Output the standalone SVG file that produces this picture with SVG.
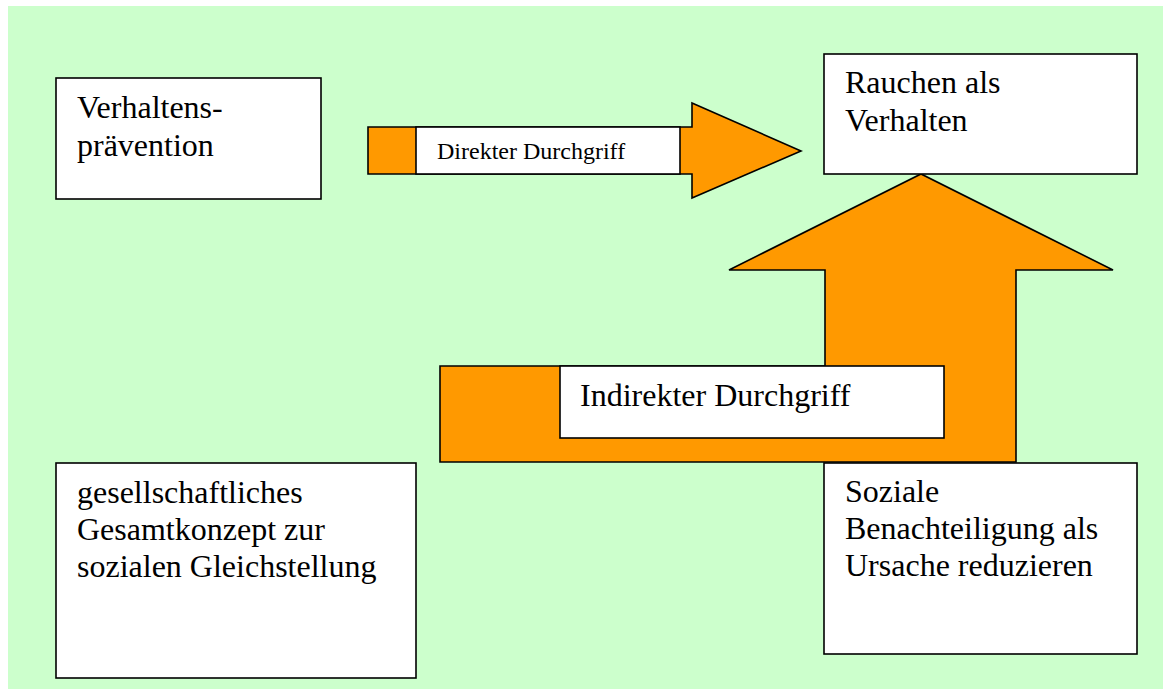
<svg xmlns="http://www.w3.org/2000/svg" width="1163" height="697" viewBox="0 0 1163 697">
<style>
.box{fill:#ffffff;stroke:#000000;stroke-width:1.6}
.arrow{fill:#ff9900;stroke:#000000;stroke-width:1.6;stroke-linejoin:miter}
.t{font-family:"Liberation Serif","Times New Roman",serif;font-size:32px;fill:#000000}
.ts{font-family:"Liberation Serif","Times New Roman",serif;font-size:24px;fill:#000000}
</style>
<rect x="0" y="0" width="1163" height="697" fill="#ffffff"/>
<rect x="8" y="6" width="1155" height="683" fill="#ccffcc"/>
<g id="connectors">
<g id="direkter-durchgriff">
<polygon class="arrow" points="368,127 692,127 692,103 801,151 692,198 692,174 368,174"/>
<rect class="box" x="416" y="127" width="264" height="47"/>
<text class="ts" x="437" y="159">Direkter Durchgriff</text>
</g>
<g id="indirekter-durchgriff">
<polygon class="arrow" points="440,366 825,366 825,270 729,270 921,174 1113,270 1016,270 1016,462 440,462"/>
<rect class="box" x="560" y="366" width="384" height="72"/>
<text class="t" x="580" y="406">Indirekter Durchgriff</text>
</g>
</g>
<g id="node-verhaltenspraevention">
<rect class="box" x="56" y="78" width="265" height="121"/>
<text class="t" x="77" y="118">Verhaltens-</text>
<text class="t" x="77" y="156">prävention</text>
</g>
<g id="node-rauchen">
<rect class="box" x="824" y="54" width="313" height="120"/>
<text class="t" x="845" y="93">Rauchen als</text>
<text class="t" x="845" y="131">Verhalten</text>
</g>
<g id="node-gesamtkonzept">
<rect class="box" x="56" y="463" width="360" height="215"/>
<text class="t" x="77" y="503">gesellschaftliches</text>
<text class="t" x="77" y="540">Gesamtkonzept zur</text>
<text class="t" x="77" y="577">sozialen Gleichstellung</text>
</g>
<g id="node-soziale-benachteiligung">
<rect class="box" x="824" y="463" width="313" height="191"/>
<text class="t" x="845" y="502">Soziale</text>
<text class="t" x="845" y="539">Benachteiligung als</text>
<text class="t" x="845" y="576">Ursache reduzieren</text>
</g>
</svg>
